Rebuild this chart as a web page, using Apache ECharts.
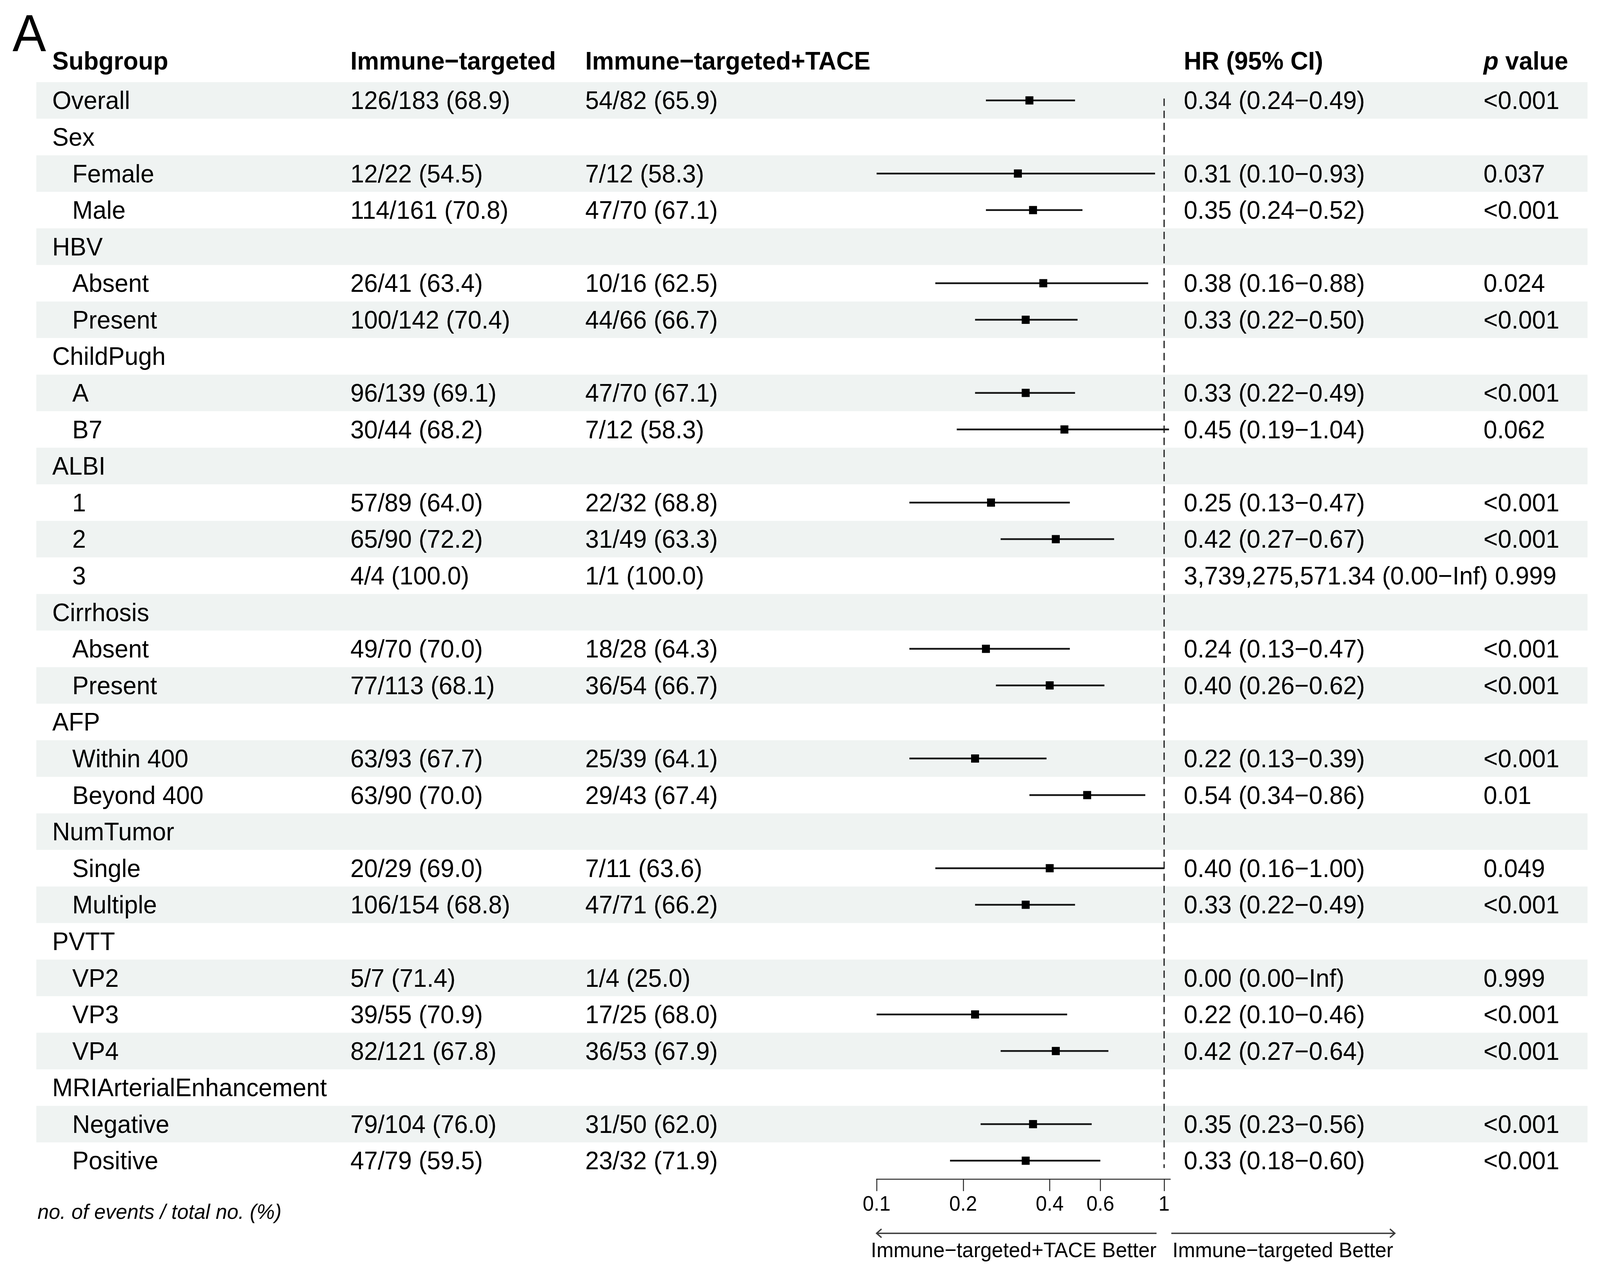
<!DOCTYPE html>
<html>
<head>
<meta charset="utf-8">
<script src="https://cdn.jsdelivr.net/npm/echarts@6/dist/echarts.min.js"></script>
<style>
html,body{margin:0;padding:0;background:#fff;overflow:hidden;}
#wrap{position:absolute;left:0;top:0;width:4229px;height:3256px;transform-origin:0 0;}
#c{width:4229px;height:3256px;}
</style>
</head>
<body>
<div id="wrap"><div id="c"></div></div>
<script>
// ---------------- DATA ----------------
const subgroups = ['Overall','Sex','Female','Male','HBV','Absent','Present','ChildPugh','A','B7',
  'ALBI','1','2','3','Cirrhosis','Absent','Present','AFP','Within 400','Beyond 400',
  'NumTumor','Single','Multiple','PVTT','VP2','VP3','VP4','MRIArterialEnhancement','Negative','Positive'];
const level = [0,0,1,1,0,1,1,0,1,1, 0,1,1,1,0,1,1,0,1,1, 0,1,1,0,1,1,1,0,1,1];
const immune = ['126/183 (68.9)','','12/22 (54.5)','114/161 (70.8)','','26/41 (63.4)','100/142 (70.4)','','96/139 (69.1)','30/44 (68.2)',
  '','57/89 (64.0)','65/90 (72.2)','4/4 (100.0)','','49/70 (70.0)','77/113 (68.1)','','63/93 (67.7)','63/90 (70.0)',
  '','20/29 (69.0)','106/154 (68.8)','','5/7 (71.4)','39/55 (70.9)','82/121 (67.8)','','79/104 (76.0)','47/79 (59.5)'];
const immuneTace = ['54/82 (65.9)','','7/12 (58.3)','47/70 (67.1)','','10/16 (62.5)','44/66 (66.7)','','47/70 (67.1)','7/12 (58.3)',
  '','22/32 (68.8)','31/49 (63.3)','1/1 (100.0)','','18/28 (64.3)','36/54 (66.7)','','25/39 (64.1)','29/43 (67.4)',
  '','7/11 (63.6)','47/71 (66.2)','','1/4 (25.0)','17/25 (68.0)','36/53 (67.9)','','31/50 (62.0)','23/32 (71.9)'];
const hrText = ['0.34 (0.24−0.49)','','0.31 (0.10−0.93)','0.35 (0.24−0.52)','','0.38 (0.16−0.88)','0.33 (0.22−0.50)','','0.33 (0.22−0.49)','0.45 (0.19−1.04)',
  '','0.25 (0.13−0.47)','0.42 (0.27−0.67)','3,739,275,571.34 (0.00−Inf)','','0.24 (0.13−0.47)','0.40 (0.26−0.62)','','0.22 (0.13−0.39)','0.54 (0.34−0.86)',
  '','0.40 (0.16−1.00)','0.33 (0.22−0.49)','','0.00 (0.00−Inf)','0.22 (0.10−0.46)','0.42 (0.27−0.64)','','0.35 (0.23−0.56)','0.33 (0.18−0.60)'];
const pText = ['<0.001','','0.037','<0.001','','0.024','<0.001','','<0.001','0.062',
  '','<0.001','<0.001','0.999','','<0.001','<0.001','','<0.001','0.01',
  '','0.049','<0.001','','0.999','<0.001','<0.001','','<0.001','<0.001'];
const hr    = [0.34,null,0.31,0.35,null,0.38,0.33,null,0.33,0.45, null,0.25,0.42,null,null,0.24,0.40,null,0.22,0.54, null,0.40,0.33,null,null,0.22,0.42,null,0.35,0.33];
const lower = [0.24,null,0.10,0.24,null,0.16,0.22,null,0.22,0.19, null,0.13,0.27,null,null,0.13,0.26,null,0.13,0.34, null,0.16,0.22,null,null,0.10,0.27,null,0.23,0.18];
const upper = [0.49,null,0.93,0.52,null,0.88,0.50,null,0.49,1.04, null,0.47,0.67,null,null,0.47,0.62,null,0.39,0.86, null,1.00,0.49,null,null,0.46,0.64,null,0.56,0.60];
const headers = ['Subgroup','Immune−targeted','Immune−targeted+TACE','HR (95% CI)','p value'];
const tickValues = [0.1,0.2,0.4,0.6,1];
const tickLabels = ['0.1','0.2','0.4','0.6','1'];
const xLimits = [0.1, 1.05];
const refValue = 1;
const arrowLabels = ['Immune−targeted+TACE Better','Immune−targeted Better'];
const footnote = 'no. of events / total no. (%)';
const panelLabel = 'A';

// ---------------- LAYOUT ----------------
const W = 4229, H = 3256;
// the page is laid out at the reference size, then fitted to the actual window
const sx = Math.min(1, window.innerWidth / W), sy = Math.min(1, window.innerHeight / H);
document.getElementById('wrap').style.transform = 'scale(' + sx + ',' + sy + ')';

const FONT = '"Liberation Sans", Arial, Helvetica, sans-serif';
const FS = 65, FS_SMALL = 54, FS_TICK = 53;
const nRows = subgroups.length;
const rowH = 93.59;
const gridTop = 210.2;
const gridH = rowH * nRows;
const plotLeft = 2317, plotWidth = 776;
const colX = [138, 926, 1547, 3129, 3921];
const indentX = 191;
const stripeX = [96, 4196];
const headerDy = -8;

const mctx = document.createElement('canvas').getContext('2d');
function textWidth(s, size, weight, style) {
  mctx.font = (style || 'normal') + ' ' + (weight || 'normal') + ' ' + size + 'px ' + FONT;
  return mctx.measureText(s).width;
}

// text items
const textItems = [];
headers.forEach((h, c) => {
  textItems.push({x: colX[c], row: -1, text: h, header: true, dy: headerDy, rich: c === 4});
});
for (let i = 0; i < nRows; i++) {
  textItems.push({x: level[i] ? indentX : colX[0], row: i, text: subgroups[i]});
  if (immune[i]) textItems.push({x: colX[1], row: i, text: immune[i]});
  if (immuneTace[i]) textItems.push({x: colX[2], row: i, text: immuneTace[i]});
  if (hrText[i]) textItems.push({x: colX[3], row: i, text: hrText[i]});
  if (pText[i]) {
    const minX = colX[3] + textWidth(hrText[i] || '', FS) + textWidth(' ', FS);
    textItems.push({x: Math.max(colX[4], minX), row: i, text: pText[i]});
  }
}

const stripeRows = [];
for (let i = 0; i < nRows; i += 2) stripeRows.push([i]);

const forestData = [];
for (let i = 0; i < nRows; i++) {
  if (hr[i] != null) forestData.push([Math.log10(hr[i]), i, Math.log10(lower[i]), Math.log10(upper[i])]);
}

const chart = echarts.init(document.getElementById('c'), null, {renderer: 'svg', width: W, height: H});

const option = {
  animation: false,
  backgroundColor: '#ffffff',
  grid: [
    {left: plotLeft, width: plotWidth, top: gridTop, height: gridH, containLabel: false},
    {left: 0, right: 0, top: gridTop, height: gridH, containLabel: false}
  ],
  xAxis: [
    {
      type: 'value', gridIndex: 0,
      min: Math.log10(xLimits[0]), max: Math.log10(xLimits[1]),
      position: 'bottom',
      axisLine: {show: true, onZero: false, lineStyle: {color: '#4a4a4a', width: 3}},
      axisTick: {show: true, length: 31, lineStyle: {color: '#222', width: 2.5},
        customValues: tickValues.map(v => Math.log10(v))},
      axisLabel: {show: true, margin: 36, fontSize: FS_TICK, fontFamily: FONT, color: '#000',
        customValues: tickValues.map(v => Math.log10(v)),
        formatter: function (v) {
          for (let k = 0; k < tickValues.length; k++) {
            if (Math.abs(Math.log10(tickValues[k]) - v) < 1e-6) return tickLabels[k];
          }
          return '';
        }},
      splitLine: {show: false}
    },
    {type: 'value', gridIndex: 1, min: 0, max: W, show: false}
  ],
  yAxis: [
    {type: 'value', gridIndex: 0, min: -0.5, max: nRows - 0.5, inverse: true, show: false},
    {type: 'value', gridIndex: 1, min: -0.5, max: nRows - 0.5, inverse: true, show: false}
  ],
  series: [
    {
      type: 'custom', xAxisIndex: 1, yAxisIndex: 1, z: 0, silent: true,
      data: stripeRows,
      encode: {y: 0},
      renderItem: function (params, api) {
        const r = api.value(0);
        const p0 = api.coord([stripeX[0], r - 0.5]);
        const p1 = api.coord([stripeX[1], r + 0.5]);
        return {type: 'rect', shape: {x: p0[0], y: p0[1], width: p1[0] - p0[0], height: p1[1] - p0[1]},
          style: {fill: '#eff3f2'}};
      }
    },
    {
      type: 'line', xAxisIndex: 0, yAxisIndex: 0, z: 2, silent: true,
      symbol: 'none',
      data: [[Math.log10(refValue), -0.05], [Math.log10(refValue), nRows - 0.8]],
      lineStyle: {color: '#2a2a2a', width: 3.5, type: [19, 12]}
    },
    {
      type: 'custom', xAxisIndex: 0, yAxisIndex: 0, z: 3, silent: true,
      data: forestData,
      encode: {x: [0, 2, 3], y: 1},
      renderItem: function (params, api) {
        const c = api.coord([api.value(0), api.value(1)]);
        const l = api.coord([api.value(2), api.value(1)]);
        const h = api.coord([api.value(3), api.value(1)]);
        const s = 21;
        return {type: 'group', children: [
          {type: 'line', shape: {x1: l[0], y1: c[1], x2: h[0], y2: c[1]}, style: {stroke: '#151515', lineWidth: 4.5}},
          {type: 'rect', shape: {x: c[0] - s / 2, y: c[1] - s / 2, width: s, height: s}, style: {fill: '#000'}}
        ]};
      }
    },
    {
      type: 'custom', xAxisIndex: 1, yAxisIndex: 1, z: 4, silent: true,
      data: textItems.map(t => [t.x, t.row]),
      encode: {x: 0, y: 1},
      renderItem: function (params, api) {
        const t = textItems[params.dataIndex];
        const p = api.coord([api.value(0), api.value(1)]);
        const style = {text: t.text, fill: '#000', fontSize: FS, fontFamily: FONT,
          fontWeight: t.header ? 'bold' : 'normal', align: 'left', verticalAlign: 'middle'};
        if (t.rich) {
          style.text = '{i|p}{b| value}';
          style.rich = {
            i: {fontSize: FS, fontFamily: FONT, fontWeight: 'bold', fontStyle: 'italic', fill: '#000'},
            b: {fontSize: FS, fontFamily: FONT, fontWeight: 'bold', fill: '#000'}
          };
        }
        return {type: 'text', x: p[0], y: p[1] + (t.dy || 0), style: style};
      }
    }
  ]
};
chart.setOption(option);

// annotations placed relative to the axis scale
const xRef = chart.convertToPixel({xAxisIndex: 0}, Math.log10(refValue));
const xMin = chart.convertToPixel({xAxisIndex: 0}, Math.log10(xLimits[0]));
const gridBottom = gridTop + gridH;
const arrowY = gridBottom + 139;
const labelY = gridBottom + 181;
const rightLabelW = textWidth(arrowLabels[1], FS_SMALL);
const lx0 = xMin, lx1 = xRef - 20;
const rx0 = xRef + 19, rx1 = xRef + 22 + rightLabelW + 4;
const arrowStyle = {stroke: '#3a3a3a', lineWidth: 3.5, fill: null};
chart.setOption({
  graphic: [
    {type: 'text', x: 33, y: 85, style: {text: panelLabel, fontSize: 133, fontFamily: FONT, fill: '#000', align: 'left', verticalAlign: 'middle'}},
    {type: 'text', x: 99, y: 3101, style: {text: footnote, fontSize: FS_SMALL, fontStyle: 'italic', fontFamily: FONT, fill: '#000', align: 'left', verticalAlign: 'middle'}},
    {type: 'line', shape: {x1: lx0, y1: arrowY, x2: lx1, y2: arrowY}, style: arrowStyle},
    {type: 'polyline', shape: {points: [[lx0 + 13, arrowY - 11], [lx0, arrowY], [lx0 + 13, arrowY + 11]]}, style: arrowStyle},
    {type: 'line', shape: {x1: rx0, y1: arrowY, x2: rx1, y2: arrowY}, style: arrowStyle},
    {type: 'polyline', shape: {points: [[rx1 - 13, arrowY - 11], [rx1, arrowY], [rx1 - 13, arrowY + 11]]}, style: arrowStyle},
    {type: 'text', x: lx1, y: labelY, style: {text: arrowLabels[0], fontSize: FS_SMALL, fontFamily: FONT, fill: '#000', align: 'right', verticalAlign: 'middle'}},
    {type: 'text', x: xRef + 22, y: labelY, style: {text: arrowLabels[1], fontSize: FS_SMALL, fontFamily: FONT, fill: '#000', align: 'left', verticalAlign: 'middle'}}
  ]
});
</script>
</body>
</html>
